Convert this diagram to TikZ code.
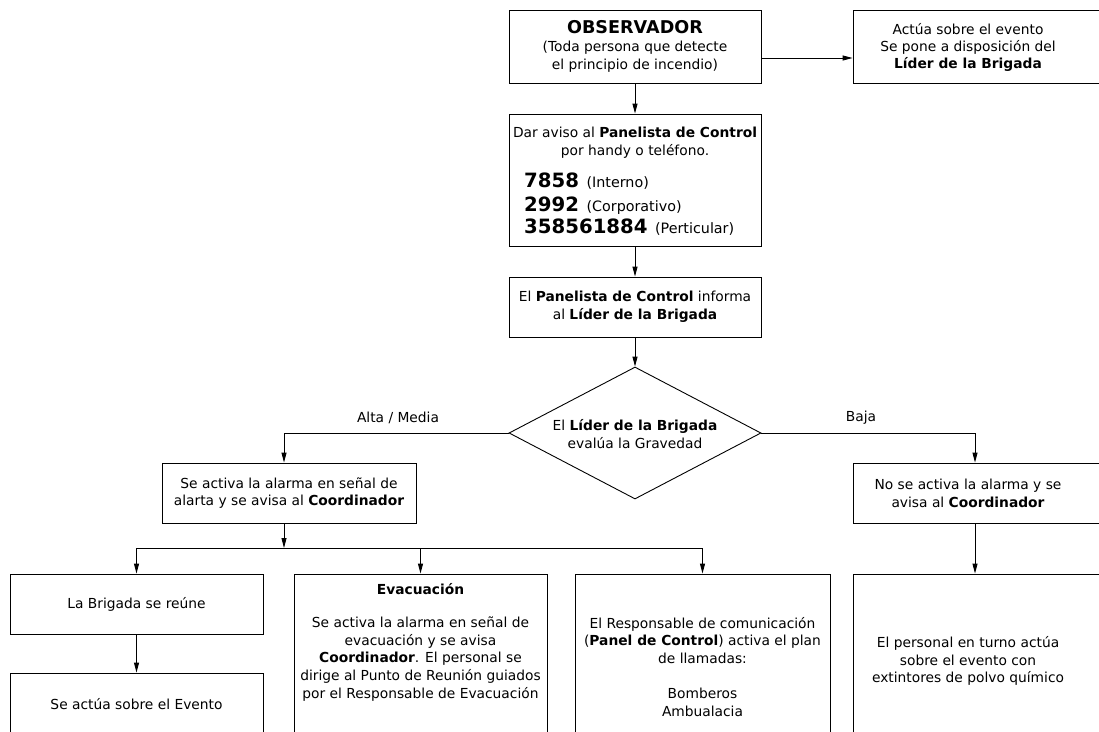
\documentclass[tikz,border=0pt]{standalone}
\usepackage{fontspec}
\setmainfont{DejaVu Sans}
\usetikzlibrary{arrows.meta,shapes.geometric}
\begin{document}
\begin{tikzpicture}[x=1pt,y=-1pt,
  font=\fontsize{13.8}{17.7}\selectfont,
  box/.style={draw,line width=0.9pt,inner sep=0pt,align=center},
  txt/.style={inner sep=0pt,align=center},
  conn/.style={line width=0.9pt},
  arr/.style={line width=0.9pt,-{Triangle[length=10pt,width=5pt]}},
  numtxt/.style={inner sep=0pt,anchor=base west,font=\fontsize{14.3}{17.7}\selectfont}
]
\useasboundingbox (0,0) rectangle (1099,731);
\clip (0,0) rectangle (1099,731);

% top row
\node[box,minimum width=252,minimum height=73] (obs) at (635,46.5)
  {{\fontsize{17.6}{20}\selectfont\bfseries OBSERVADOR}\\(Toda persona que detecte\\el principio de incendio)};
\node[box,minimum width=259,minimum height=73] (act) at (982.5,46.5) {};
\node[txt,font=\fontsize{13.8}{16.6}\selectfont] (actt) at (968,47.5) {Actúa sobre el evento\\Se pone a disposición del\\\textbf{Líder de la Brigada}};

% aviso box
\node[box,minimum width=252,minimum height=132] (aviso) at (635,180) {};
\node[txt,anchor=base] (av1) at (635,137) {Dar aviso al \textbf{Panelista de Control}};
\node[txt,anchor=base] (av2) at (635,155) {por handy o teléfono.};
\node[numtxt] (av3) at (524,187) {{\fontsize{19.7}{22}\selectfont\bfseries 7858}\hspace{3pt} (Interno)};
\node[numtxt] (av4) at (524,211) {{\fontsize{19.7}{22}\selectfont\bfseries 2992}\hspace{3pt} (Corporativo)};
\node[numtxt] (av5) at (524,233) {{\fontsize{19.7}{22}\selectfont\bfseries 358561884}\hspace{3pt} (Perticular)};

% panelista
\node[box,minimum width=252,minimum height=60] (pan) at (635,307)
  {El \textbf{Panelista de Control} informa\\al \textbf{Líder de la Brigada}};

% decision
\node[draw,diamond,line width=0.9pt,inner sep=0pt,minimum width=252,minimum height=132] (dia) at (635,433) {};
\node[txt] (diat) at (635,434) {El \textbf{Líder de la Brigada}\\evalúa la Gravedad};

% second level
\node[box,minimum width=254,minimum height=60] (alta) at (289,493)
  {Se activa la alarma en señal de\\alarta y se avisa al \textbf{Coordinador}};
\node[box,minimum width=259,minimum height=60] (baja) at (982.5,493) {};
\node[txt] (bajat) at (968,493) {No se activa la alarma y se\\avisa al \textbf{Coordinador}};

% bottom row
\node[box,minimum width=253,minimum height=60] (brig) at (136.5,604) {La Brigada se reúne};
\node[box,minimum width=253,minimum height=62] (actu) at (136.5,704) {Se actúa sobre el Evento};
\node[box,minimum width=253,minimum height=186] (evac) at (420.5,667) {};
\node[txt,anchor=base] (evt) at (420.5,594) {\textbf{Evacuación}};
\node[txt,anchor=north] (evb) at (420.5,616.5)
  {Se activa la alarma en señal de\\evacuación y se avisa\\\textbf{Coordinador}. El personal se\\dirige al Punto de Reunión guiados\\por el Responsable de Evacuación};
\node[box,minimum width=255,minimum height=186] (resp) at (702.5,667)
  {El Responsable de comunicación\\(\textbf{Panel de Control}) activa el plan\\de llamadas:\\[17.7pt]Bomberos\\Ambualacia};
\node[box,minimum width=259,minimum height=186] (pers) at (982.5,667) {};
\node[txt] (perst) at (968,661) {El personal en turno actúa\\sobre el evento con\\extintores de polvo químico};

% labels
\node[txt] (lalta) at (398,418) {Alta / Media};
\node[txt] (lbaja) at (861,418) {Baja};

% connectors
\draw[arr] ([yshift=-11.5]obs.east) -- ([yshift=-11.5]obs.east -| act.west);
\draw[arr] (obs.south) -- (aviso.north);
\draw[arr] (aviso.south) -- (pan.north);
\draw[arr] (pan.south) -- (dia.north);
\draw[arr] (dia.west) -| ([xshift=-5]alta.north);
\draw[arr] (dia.east) -| ([xshift=-7.5]baja.north);
\coordinate (bus) at (284,548);
\draw[arr] ([xshift=-5]alta.south) -- (bus);
\draw[conn] (brig.north |- bus) -- (resp.north |- bus);
\draw[arr] (brig.north |- bus) -- (brig.north);
\draw[arr] (evac.north |- bus) -- (evac.north);
\draw[arr] (resp.north |- bus) -- (resp.north);
\draw[arr] (brig.south) -- (actu.north);
\draw[arr] ([xshift=-7.5]baja.south) -- ([xshift=-7.5]pers.north);
\end{tikzpicture}
\end{document}
